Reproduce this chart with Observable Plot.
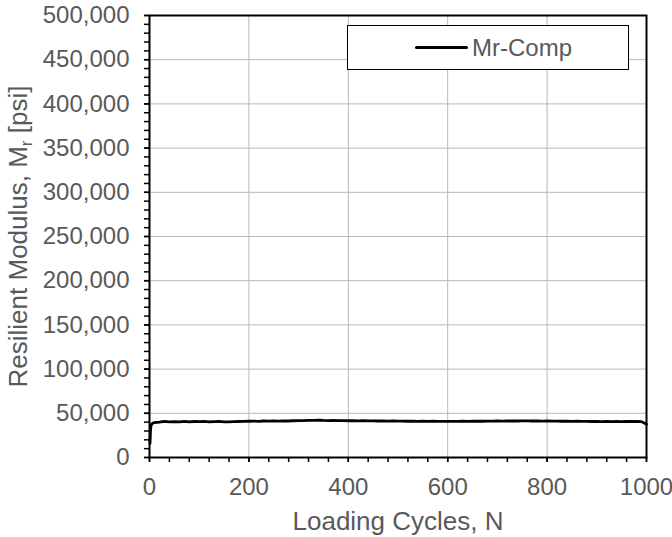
<!DOCTYPE html>
<html>
<head>
<meta charset="utf-8">
<script src="https://cdn.jsdelivr.net/npm/d3@7"></script>
<script src="https://cdn.jsdelivr.net/npm/@observablehq/plot@0.6"></script>
<style>
  body { margin: 0; background: #fff; }
  #wrap { position: relative; width: 672px; height: 537px; font-family: "Liberation Sans", Arial, sans-serif; }
  #legend { position: absolute; left: 347px; top: 25px; width: 280px; height: 43px; border: 1px solid #000; background: #fff; }
  #legend .swatch { position: absolute; left: 67px; top: 20px; width: 53px; height: 3px; background: #000; border-radius: 1.5px; }
  #legend .lbl { position: absolute; left: 124px; top: 0; line-height: 43px; font-size: 24px; color: #595959; }
</style>
</head>
<body>
<div id="wrap"><div id="legend"><div class="swatch"></div><div class="lbl">Mr-Comp</div></div></div>
<script>
// ---- data ----
const seriesName = "Mr-Comp";
const cycles = [1, 2, 3, 5, 7, 10, 20, 30, 40, 50, 60, 70, 80, 90, 100, 110, 120, 130, 140, 150, 160, 170, 180, 190,
  200, 210, 220, 230, 240, 250, 260, 270, 280, 290, 300, 310, 320, 330, 340, 350, 360, 370, 380, 390,
  400, 410, 420, 430, 440, 450, 460, 470, 480, 490, 500, 510, 520, 530, 540, 550, 560, 570, 580, 590,
  600, 610, 620, 630, 640, 650, 660, 670, 680, 690, 700, 710, 720, 730, 740, 750, 760, 770, 780, 790,
  800, 810, 820, 830, 840, 850, 860, 870, 880, 890, 900, 910, 920, 930, 940, 950, 960, 970, 980, 990, 1000];
const mrPsi = [16000, 30000, 36000, 38000, 39000, 39500, 40000, 40800, 40200, 40600, 40300, 40900, 40400, 40700, 40500, 40800, 40300, 40600, 40900, 40400, 40200, 40500, 40700, 40900,
  41000, 41200, 40900, 41300, 41100, 41400, 41200, 41500, 41300, 41600, 41700, 41800, 41900, 42000, 42200, 41900, 41800, 41900, 41700, 41800,
  41600, 41700, 41500, 41600, 41400, 41500, 41300, 41400, 41200, 41300, 41100, 41200, 41000, 41100, 40900, 41000, 40900, 41000, 40800, 40900,
  40800, 40900, 40800, 41000, 40900, 41000, 41100, 41000, 41200, 41100, 41300, 41200, 41300, 41400, 41300, 41500, 41400, 41300, 41400, 41200,
  41300, 41100, 41200, 41000, 41100, 40900, 41000, 40800, 40900, 40700, 40800, 40600, 40700, 40500, 40700, 40600, 40800, 40700, 40900, 40600, 37500];
const xTicks = [0, 200, 400, 600, 800, 1000];
const xMinorTicks = d3.range(0, 1001, 40);
const yTicks = d3.range(0, 500001, 50000);
const yMinorTicks = d3.range(0, 500001, 10000);
const xTitle = "Loading Cycles, N";
const yTitle = "Resilient Modulus, Mr [psi]";

const data = cycles.map((c, i) => ({cycle: c, mr: mrPsi[i]}));

const font = "Liberation Sans, Arial, sans-serif";
const gray = "#595959";

const chart = Plot.plot({
  width: 672,
  height: 537,
  marginLeft: 149,
  marginRight: 26,
  marginTop: 15,
  marginBottom: 80,
  style: {fontFamily: font, background: "#fff", overflow: "visible"},
  x: {domain: [0, 1000]},
  y: {domain: [0, 500000]},
  marks: [
    Plot.gridX(xTicks, {stroke: "#b8b8b8", strokeOpacity: 1, strokeWidth: 1}),
    Plot.gridY(yTicks, {stroke: "#b8b8b8", strokeOpacity: 1, strokeWidth: 1}),
    Plot.axisX(xMinorTicks, {tickSize: 5, text: null, stroke: "#000", strokeWidth: 1.5, label: null}),
    Plot.axisY(yMinorTicks, {tickSize: 5, text: null, stroke: "#000", strokeWidth: 1.5, label: null}),
    Plot.axisX(xTicks, {tickSize: 5, tickPadding: 15, fontSize: 24, fill: gray, stroke: "#000", strokeWidth: 1.5, tickFormat: d3.format("d"), label: null}),
    Plot.axisY(yTicks, {tickSize: 5, tickPadding: 15, fontSize: 24, fill: gray, stroke: "#000", strokeWidth: 1.5, tickFormat: d3.format(","), label: null}),
    Plot.line(data, {x: "cycle", y: "mr", stroke: "#000", strokeWidth: 2.8, strokeLinejoin: "round"}),
    Plot.frame({stroke: "#000", strokeWidth: 2}),
    Plot.text([xTitle], {frameAnchor: "bottom", dy: 72, lineAnchor: "bottom", fontSize: 26, fill: gray}),
    Plot.text([yTitle], {frameAnchor: "left", dx: -141, rotate: -90, textAnchor: "middle", lineAnchor: "top", fontSize: 26, fill: gray})
  ]
});

document.getElementById("wrap").insertBefore(chart, document.getElementById("legend"));

// subscript r in the y title
d3.select(chart).selectAll("text").filter(function () { return this.textContent === yTitle; }).each(function () {
  const t = d3.select(this);
  t.text(null);
  t.append("tspan").text("Resilient Modulus, M");
  t.append("tspan").attr("font-size", "17px").attr("dy", 5).text("r");
  t.append("tspan").attr("dy", -5).text(" [psi]");
});
</script>
</body>
</html>
